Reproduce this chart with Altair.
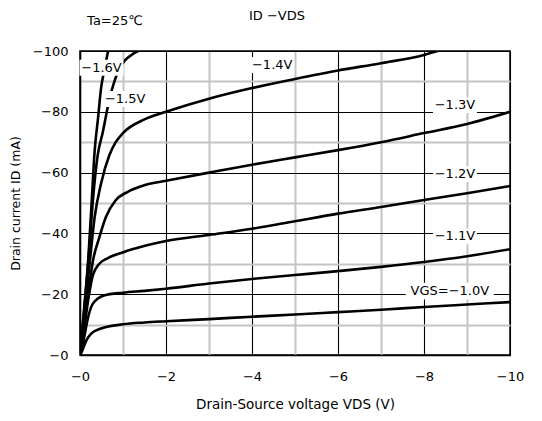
import altair as alt
import pandas as pd

# ---- data (VDS in V, ID in mA) ----
vgs_labels = ["-1.0", "-1.1", "-1.2", "-1.3", "-1.4", "-1.5", "-1.6"]

vds_10 = [0, -0.04, -0.08, -0.15, -0.26, -0.49, -1.0, -1.5, -2, -3, -4, -5, -6, -7, -8, -9, -10]
id_10 = [0, -1, -2.5, -4.8, -7, -8.7, -10.1, -10.7, -11.1, -11.8, -12.6, -13.3, -14.1, -14.9, -15.8, -16.6, -17.4]

vds_11 = [0, -0.05, -0.1, -0.19, -0.3, -0.56, -1.0, -1.5, -2, -3, -4, -5, -6, -7, -8, -9, -10]
id_11 = [0, -2.5, -6, -12.5, -16.9, -19.6, -20.5, -21.1, -21.8, -23.5, -25, -26.3, -27.6, -29, -30.6, -32.5, -34.8]

vds_12 = [0, -0.1, -0.2, -0.3, -0.45, -0.64, -1.01, -1.51, -2, -3, -4, -5, -6, -7, -8, -9, -10]
id_12 = [0, -9, -19, -26.3, -30, -31.8, -33.8, -35.9, -37.5, -39.5, -41.5, -44, -46.5, -48.7, -51, -53.2, -55.6]

vds_13 = [0, -0.1, -0.2, -0.3, -0.45, -0.6, -0.83, -1.1, -1.51, -2, -3, -4, -5, -6, -7, -8, -9, -10]
id_13 = [0, -10, -21, -30.9, -38.7, -45.3, -50.9, -53.6, -55.9, -57.3, -60, -62.6, -65, -67.4, -70, -73, -76, -80]

vds_14 = [0, -0.1, -0.23, -0.34, -0.49, -0.68, -0.83, -1.0, -1.5, -2, -3, -4, -5, -6, -7, -8, -8.4]
id_14 = [0, -13, -30.9, -45.3, -56.4, -65.6, -70, -73, -77.5, -80, -84.3, -87.8, -90.8, -93.6, -96, -98.7, -100.4]

vds_15 = [0, -0.1, -0.2, -0.3, -0.41, -0.53, -0.68, -0.8, -0.92, -1.05, -1.25, -1.5]
id_15 = [0, -15, -32, -50.9, -65.6, -73.3, -83.9, -90, -94.3, -97, -99.2, -100.8]

vds_16 = [0, -0.1, -0.19, -0.27, -0.34, -0.42, -0.49, -0.57, -0.66]
id_16 = [0, -16, -31, -50, -67, -78, -87.8, -94, -100.5]

curve_vds = [vds_10, vds_11, vds_12, vds_13, vds_14, vds_15, vds_16]
curve_id = [id_10, id_11, id_12, id_13, id_14, id_15, id_16]

# curve labels
label_text = ["−1.6V", "−1.5V", "−1.4V", "−1.3V", "−1.2V", "−1.1V"]
label_vds = [-0.5, -1.05, -4.47, -8.72, -8.72, -8.72]
label_id = [-94.5, -84.2, -95.4, -82.2, -59.5, -39.0]
vgs_text = ["VGS=−1.0V"]
vgs_vds = [-8.6]
vgs_id = [-21.0]

x_ticks = list(range(0, -11, -1))
y_ticks = list(range(0, -101, -10))

FONT = "DejaVu Sans"

rows = []
for name, xs, ys in zip(vgs_labels, curve_vds, curve_id):
    for i, (xv, yv) in enumerate(zip(xs, ys)):
        rows.append({"vgs": name, "seq": i, "vds": xv, "id": yv})
curves = pd.DataFrame(rows)
labels = pd.DataFrame({"txt": label_text, "vds": label_vds, "id": label_id})
vgs_lab = pd.DataFrame({"txt": vgs_text, "vds": vgs_vds, "id": vgs_id})

x_axis = alt.Axis(
    values=x_ticks,
    format="d",
    labelExpr="datum.value % 2 === 0 ? (datum.value === 0 ? '−0' : datum.label) : ''",
    grid=True,
    gridColor=alt.condition("datum.value % 2 === 0", alt.value("#000000"), alt.value("#c4c4c4")),
    gridWidth=alt.condition("datum.value % 2 === 0", alt.value(1.1), alt.value(2)),
    ticks=False,
    tickSize=0,
    domainColor="black",
    domainWidth=1.5,
    labelFontSize=13,
    labelColor="black",
    labelPadding=15,
    labelFlush=False,
    titleFontSize=13.5,
    titleFontWeight="normal",
    titleColor="black",
    titlePadding=14,
)
y_axis = alt.Axis(
    values=y_ticks,
    format="d",
    labelExpr="datum.value % 20 === 0 ? (datum.value === 0 ? '−0' : datum.label) : ''",
    grid=True,
    gridColor=alt.condition("datum.value % 20 === 0", alt.value("#000000"), alt.value("#c4c4c4")),
    gridWidth=alt.condition("datum.value % 20 === 0", alt.value(1.1), alt.value(2)),
    ticks=False,
    tickSize=0,
    domainColor="black",
    domainWidth=1.5,
    labelFontSize=13,
    labelColor="black",
    labelPadding=12,
    labelFlush=False,
    titleFontSize=12.5,
    titleFontWeight="normal",
    titleColor="black",
    titlePadding=10,
)

X = alt.X("vds:Q", scale=alt.Scale(domain=[-10, 0], reverse=True, nice=False),
          axis=x_axis, title="Drain-Source voltage VDS (V)")
Y = alt.Y("id:Q", scale=alt.Scale(domain=[-100, 0], reverse=True, nice=False),
          axis=y_axis, title="Drain current  ID (mA)")

lines = alt.Chart(curves).mark_line(
    color="black", strokeWidth=2.6, interpolate="monotone", clip=True
).encode(x=X, y=Y, detail="vgs:N", order="seq:Q")

boxes = alt.Chart(labels).mark_point(
    shape="M-1,-0.36H1V0.36H-1Z", filled=True, fill="white", stroke=None,
    opacity=1, size=1936
).encode(x=X, y=Y)

vgs_box = alt.Chart(vgs_lab).mark_point(
    shape="M-1,-0.19H1V0.19H-1Z", filled=True, fill="white", stroke=None,
    opacity=1, size=7744
).encode(x=X, y=Y)

texts = alt.Chart(labels).mark_text(
    fontSize=13, color="black", font=FONT
).encode(x=X, y=Y, text="txt:N")

vgs_txt = alt.Chart(vgs_lab).mark_text(
    fontSize=13, color="black", font=FONT
).encode(x=X, y=Y, text="txt:N")

title_txt = alt.Chart(pd.DataFrame({"t": ["ID −VDS"]})).mark_text(
    fontSize=13, color="black", font=FONT
).encode(x=alt.value(197), y=alt.value(-35), text="t:N")

ta_txt = alt.Chart(pd.DataFrame({"t": ["Ta=25℃"]})).mark_text(
    fontSize=13, color="black", font=FONT
).encode(x=alt.value(35), y=alt.value(-30), text="t:N")

chart = alt.layer(lines, boxes, vgs_box, texts, vgs_txt, title_txt, ta_txt).properties(
    width=430,
    height=304,
    padding={"left": 72, "top": 43, "right": 24, "bottom": 58},
    autosize=alt.AutoSizeParams(type="none"),
    background="white",
).configure(font=FONT).configure_view(stroke="black", strokeWidth=1.5)

chart.save("out.html", embed_options={"renderer": "svg", "actions": False})
